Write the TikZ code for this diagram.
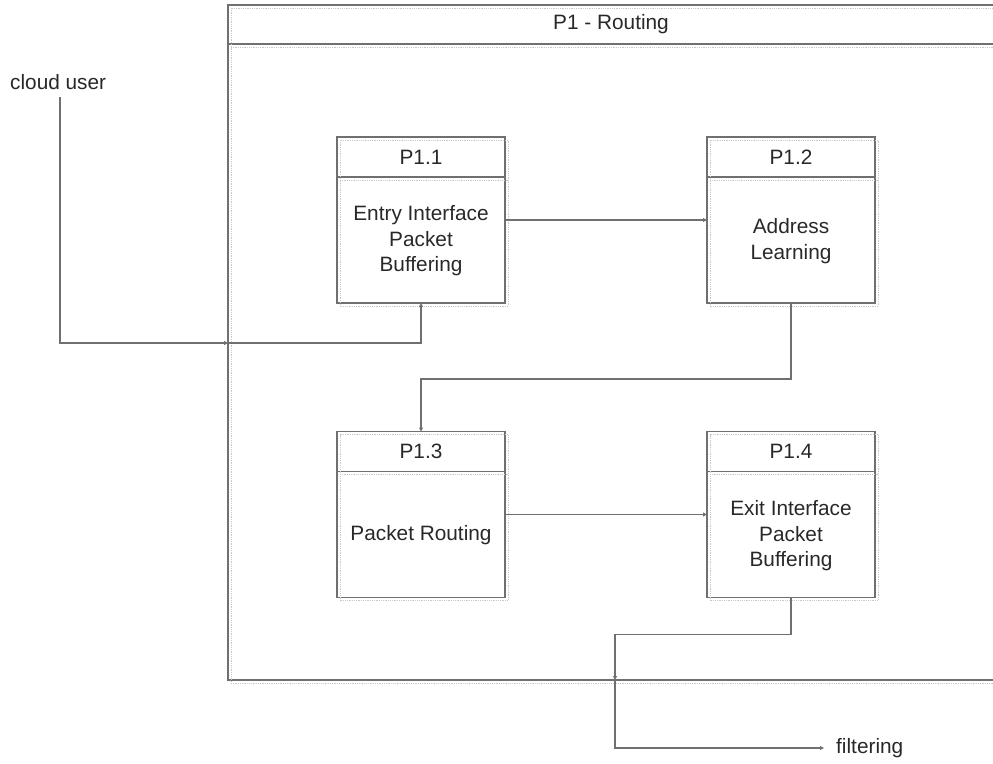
\documentclass[tikz,border=0pt]{standalone}
\usepackage{fontspec}
\setmainfont{Liberation Sans}
\usetikzlibrary{arrows.meta}
\definecolor{linegray}{RGB}{112,112,112}
\definecolor{shadegray}{RGB}{200,200,200}
\definecolor{textgray}{RGB}{40,40,40}
\tikzset{
  base/.style={draw=linegray, line width=1.3pt, outer sep=0pt, inner sep=0pt, text=textgray, font=\fontsize{20.8}{25.5}\selectfont},
  procbox/.style={base, minimum width=168, minimum height=166},
  hdr/.style={base, minimum width=168, minimum height=40, anchor=north},
  bodytext/.style={text=textgray, font=\fontsize{20.8}{25.5}\selectfont, align=center, inner sep=0pt},
  outerbox/.style={base, anchor=north west, minimum width=766, minimum height=675},
  outerhdr/.style={base, anchor=north west, minimum width=766, minimum height=39},
  conn/.style={draw=linegray, line width=1.3pt, -{Triangle[length=4pt,width=4pt,fill=gray]}},
  shade/.style={draw=shadegray, line width=0.8pt, densely dotted},
}
\begin{document}
\begin{tikzpicture}[x=1pt,y=-1pt]
\useasboundingbox (0,0) rectangle (993,763);
\clip (0,0) rectangle (993,763);
% outer process
\node[outerbox] (p1) at (228,5) {};
\node[outerhdr] (p1h) at (228,5) {P1 - Routing};
\draw[shade] ([shift={(3,3)}]p1.north west) rectangle ([shift={(3,3)}]p1.south east);
\draw[shade] ([shift={(3,3)}]p1h.south west) -- ([shift={(3,3)}]p1h.south east);
% sub processes
\node[procbox] (p11) at (421,220) {};
\node[hdr] (p11h) at (p11.north) {P1.1};
\node[bodytext] (p11t) at (421,241) {Entry Interface\\Packet\\Buffering};
\node[procbox] (p12) at (791,220) {};
\node[hdr] (p12h) at (p12.north) {P1.2};
\node[bodytext] (p12t) at (791,241) {Address\\Learning};
\node[procbox] (p13) at (421,514.5) {};
\node[hdr] (p13h) at (p13.north) {P1.3};
\node[bodytext] (p13t) at (421,535) {Packet Routing};
\node[procbox] (p14) at (791,514.5) {};
\node[hdr] (p14h) at (p14.north) {P1.4};
\node[bodytext] (p14t) at (791,536) {Exit Interface\\Packet\\Buffering};
\foreach \b in {p11,p12,p13,p14}{
  \draw[shade] ([shift={(3,3)}]\b.north west) rectangle ([shift={(3,3)}]\b.south east);
  \draw[shade] ([shift={(3,3)}]\b h.south west) -- ([shift={(3,3)}]\b h.south east);
}
% external entities
\node[bodytext, anchor=west] (cu) at (10,82) {cloud user};
\node[bodytext, anchor=west] (filt) at (836,748) {filtering};
\coordinate (cuin) at (60,97);
\coordinate (entry) at (228,343);
\coordinate (exitp) at (615,680);
% connectors
\draw[conn] (cuin) |- (entry);
\draw[conn] (entry) -| (p11.south);
\draw[conn] (p11.east) -- (p12.west);
\draw[conn] (p12.south) -- ++(0,76) -| (p13.north);
\draw[conn] (p13.east) -- (p14.west);
\draw[conn] (p14.south) -- ++(0,37) -| (exitp);
\draw[conn] (exitp) |- ([xshift=-12pt]filt.west);
\end{tikzpicture}
\end{document}
